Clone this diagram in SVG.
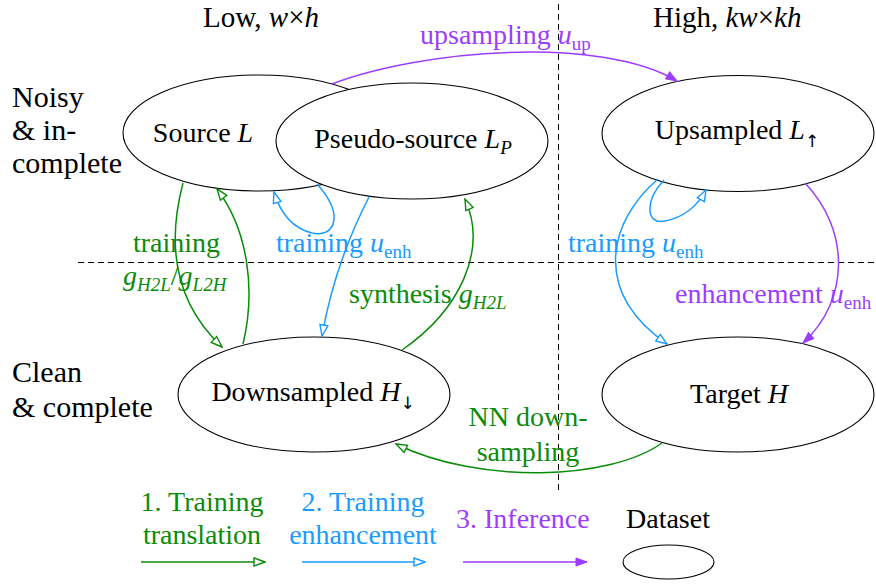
<svg xmlns="http://www.w3.org/2000/svg" width="876" height="585" viewBox="0 0 876 585" font-family="Liberation Serif, Times New Roman, Times, DejaVu Serif, serif">
<style>
text{font-size:28px;fill:#000}
.g{fill:#0a8c0a}.b{fill:#1a9bff}.p{fill:#9b3dff}
.i{font-style:italic}
.sub{font-size:19px}
.arr{font-size:17px;font-family:'DejaVu Sans','DejaVu Serif',sans-serif;fill:#000}
.node{fill:#fff;stroke:#000;stroke-width:1.1}
.dash{stroke:#000;stroke-width:1;stroke-dasharray:6,4;fill:none}
.cg{stroke:#0a8c0a;stroke-width:1.5;fill:none;marker-end:url(#ag)}
.cb{stroke:#1a9bff;stroke-width:1.5;fill:none;marker-end:url(#ab)}
.cp{stroke:#9b3dff;stroke-width:1.5;fill:none;marker-end:url(#ap)}
.side{font-size:30px}
.top{font-size:29px}
</style>
<defs>
<marker id="ag" viewBox="-1 -1 13 10" refX="11" refY="4" markerWidth="13" markerHeight="10" markerUnits="userSpaceOnUse" orient="auto"><path d="M0,0 L11,4 L0,8 z" fill="#fff" stroke="#0a8c0a" stroke-width="1.4"/></marker>
<marker id="ab" viewBox="-1 -1 13 10" refX="11" refY="4" markerWidth="13" markerHeight="10" markerUnits="userSpaceOnUse" orient="auto"><path d="M0,0 L11,4 L0,8 z" fill="#fff" stroke="#1a9bff" stroke-width="1.4"/></marker>
<marker id="ap" viewBox="-1 -1 13 10" refX="11" refY="4" markerWidth="13" markerHeight="10" markerUnits="userSpaceOnUse" orient="auto"><path d="M0,0 L11,4 L0,8 z" fill="#9b3dff" stroke="#9b3dff" stroke-width="1"/></marker>
</defs>

<g id="grid">
<line class="dash" x1="78" y1="262.5" x2="876" y2="262.5"/>
<line class="dash" x1="558.5" y1="4" x2="558.5" y2="490"/>
</g>

<g id="axis-labels">
<text class="top" x="203" y="27">Low, <tspan class="i">w</tspan>×<tspan class="i">h</tspan></text>
<text class="top" x="653" y="27">High, <tspan class="i">kw</tspan>×<tspan class="i">kh</tspan></text>
<text class="side" x="12" y="107">Noisy</text>
<text class="side" x="12" y="140">&amp; in-</text>
<text class="side" x="12" y="173">complete</text>
<text class="side" x="12" y="382">Clean</text>
<text class="side" x="12" y="417">&amp; complete</text>
</g>

<g id="node-source">
<ellipse class="node" cx="259" cy="133" rx="136" ry="58"/>
<text x="203" y="142" text-anchor="middle">Source <tspan class="i">L</tspan></text>
</g>
<g id="node-pseudo">
<ellipse class="node" cx="412" cy="141" rx="136" ry="58"/>
<text x="413" y="148" text-anchor="middle">Pseudo-source <tspan class="i">L</tspan><tspan class="sub i" dy="6">P</tspan></text>
</g>
<g id="node-upsampled">
<ellipse class="node" cx="738" cy="133.5" rx="136" ry="58"/>
<text x="737" y="139" text-anchor="middle">Upsampled <tspan class="i">L</tspan><tspan class="arr" dy="8">↑</tspan></text>
</g>
<g id="node-downsampled">
<ellipse class="node" cx="314" cy="394.5" rx="136" ry="57.5"/>
<text x="313" y="401" text-anchor="middle">Downsampled <tspan class="i">H</tspan><tspan class="arr" dy="8">↓</tspan></text>
</g>
<g id="node-target">
<ellipse class="node" cx="738" cy="394.5" rx="136" ry="57.5"/>
<text x="739" y="403" text-anchor="middle">Target <tspan class="i">H</tspan></text>
</g>

<g id="connectors">
<path class="cp" d="M332,84 C420,50 600,35 677,81"/>
<path class="cg" d="M183,183 C168,240 172,300 222,347"/>
<path class="cg" d="M243,344 C256,290 248,230 217,189"/>
<path class="cb" d="M317,184 C345,215 335,238 312,233 C292,228 280,212 274,192"/>
<path class="cb" d="M369,197 C347,240 330,290 322,336"/>
<path class="cg" d="M402,350 C460,310 488,250 465,199"/>
<path class="cb" d="M664,180 C645,200 645,225 665,221 C685,217 698,205 706,190"/>
<path class="cb" d="M658,179 C610,220 590,290 667,344"/>
<path class="cp" d="M805,183 C850,230 850,300 803,343"/>
<path class="cg" d="M662,443 C610,480 480,485 396,444"/>
</g>

<g id="edge-labels">
<text class="p" x="420" y="44">upsampling <tspan class="i">u</tspan><tspan class="sub" dy="6">up</tspan></text>
<text class="g" x="133" y="252">training</text>
<text class="g" x="123" y="285"><tspan class="i">g</tspan><tspan class="sub i" dy="6">H2L</tspan><tspan dy="-6">/</tspan><tspan class="i">g</tspan><tspan class="sub i" dy="6">L2H</tspan></text>
<text class="b" x="276" y="252">training <tspan class="i">u</tspan><tspan class="sub" dy="6">enh</tspan></text>
<text class="g" x="349" y="303">synthesis <tspan class="i">g</tspan><tspan class="sub i" dy="6">H2L</tspan></text>
<text class="b" x="568" y="252">training <tspan class="i">u</tspan><tspan class="sub" dy="6">enh</tspan></text>
<text class="p" x="675" y="303">enhancement <tspan class="i">u</tspan><tspan class="sub" dy="6">enh</tspan></text>
<text class="g" x="528" y="426" text-anchor="middle">NN down-</text>
<text class="g" x="528" y="461" text-anchor="middle">sampling</text>
</g>

<g id="legend">
<text class="g" x="202" y="511" text-anchor="middle">1. Training</text>
<text class="g" x="202" y="544" text-anchor="middle">translation</text>
<text class="b" x="363" y="511" text-anchor="middle">2. Training</text>
<text class="b" x="363" y="544" text-anchor="middle">enhancement</text>
<text class="p" x="456" y="528">3. Inference</text>
<text x="626" y="528">Dataset</text>
<line class="cg" x1="141" y1="562" x2="265" y2="562"/>
<line class="cb" x1="302" y1="562" x2="425" y2="562"/>
<line class="cp" x1="463" y1="562" x2="587" y2="562"/>
<ellipse class="node" cx="668.5" cy="562" rx="45.5" ry="17"/>
</g>
</svg>
